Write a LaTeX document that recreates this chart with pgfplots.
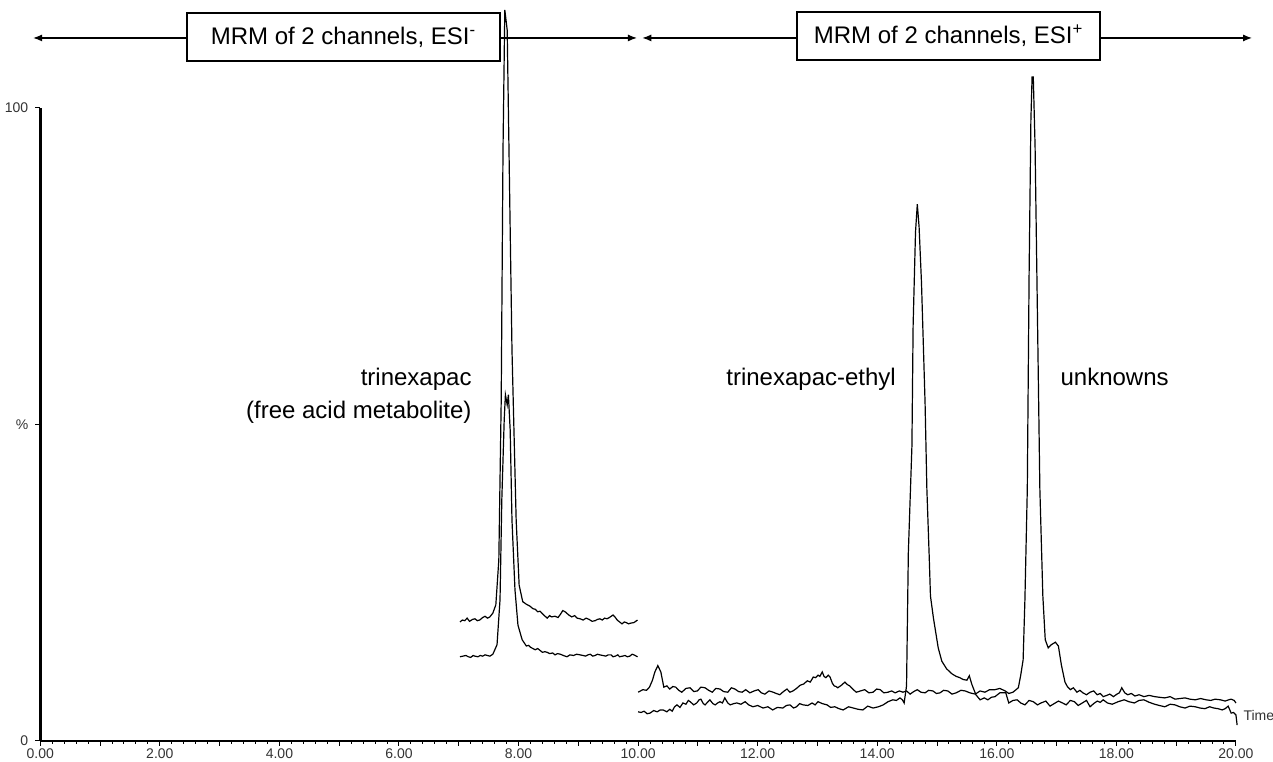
\documentclass[border=0pt]{standalone}
\usepackage{fontspec}
\setmainfont{Liberation Sans}
\usepackage{pgfplots}
\usepackage{pgfplotstable}
\pgfplotsset{compat=1.18}
\usetikzlibrary{arrows.meta}

% ESI- channel 1 (upper trace, tall peak)
\pgfplotstableread{
t p
7.02 18.8
7.06 19.1
7.10 19.0
7.14 19.4
7.18 18.9
7.23 19.2
7.27 19.3
7.31 19.0
7.35 19.1
7.40 19.5
7.44 19.7
7.48 19.4
7.52 19.6
7.57 20.2
7.62 21.5
7.67 28.6
7.71 53.9
7.74 93.4
7.77 115.5
7.81 112.3
7.84 93.4
7.89 61.8
7.96 34.9
8.01 24.6
8.07 22.0
8.13 21.6
8.19 21.3
8.24 20.9
8.28 20.8
8.32 20.4
8.36 20.5
8.42 19.9
8.48 19.4
8.52 19.8
8.55 19.6
8.61 19.7
8.66 19.5
8.70 20.0
8.74 20.6
8.78 20.4
8.84 19.9
8.89 19.6
8.94 19.8
8.98 19.4
9.03 19.3
9.08 19.1
9.13 19.4
9.18 19.2
9.23 18.9
9.28 19.0
9.32 19.2
9.36 19.3
9.40 19.1
9.44 19.4
9.48 19.3
9.52 19.5
9.55 19.7
9.58 19.9
9.62 19.5
9.65 19.1
9.69 18.8
9.73 18.5
9.77 18.8
9.80 18.7
9.84 18.5
9.87 18.6
9.93 18.7
9.99 19.1
}\esiA

% ESI- channel 2 (lower trace)
\pgfplotstableread{
t p
7.02 13.3
7.07 13.4
7.12 13.5
7.16 13.3
7.20 13.2
7.24 13.5
7.27 13.4
7.32 13.3
7.36 13.5
7.40 13.4
7.44 13.6
7.48 13.5
7.52 13.4
7.57 13.7
7.64 15.2
7.69 22.3
7.72 38.1
7.76 50.7
7.78 54.7
7.81 53.1
7.83 54.7
7.86 49.1
7.89 34.9
7.94 23.9
7.99 18.3
8.06 16.0
8.13 15.0
8.17 15.1
8.20 14.8
8.24 14.6
8.28 14.4
8.32 14.6
8.36 14.3
8.40 14.0
8.44 14.1
8.48 14.0
8.52 13.8
8.57 13.9
8.61 13.6
8.65 13.8
8.70 13.7
8.75 13.5
8.81 13.3
8.86 13.6
8.92 13.5
8.97 13.7
9.03 13.6
9.08 13.5
9.12 13.4
9.16 13.6
9.20 13.7
9.24 13.4
9.28 13.5
9.32 13.7
9.36 13.6
9.41 13.5
9.46 13.4
9.50 13.6
9.55 13.6
9.58 13.3
9.62 13.4
9.66 13.6
9.69 13.3
9.74 13.4
9.78 13.5
9.82 13.3
9.86 13.4
9.90 13.7
9.93 13.6
9.99 13.3
}\esiB

% ESI+ channel 1 (bump at 10.3, unknowns peak)
\pgfplotstableread{
t p
10.00 7.7
10.04 7.9
10.08 8.1
10.14 8.0
10.19 8.5
10.24 9.6
10.28 10.9
10.33 11.9
10.38 10.9
10.43 8.5
10.48 8.7
10.53 8.2
10.58 8.6
10.63 8.5
10.68 8.0
10.73 7.7
10.80 8.3
10.87 8.4
10.93 7.8
10.99 7.9
11.05 8.5
11.12 8.4
11.18 8.0
11.24 7.7
11.30 8.3
11.37 8.2
11.43 7.8
11.50 7.7
11.56 8.4
11.62 8.2
11.68 7.8
11.74 7.7
11.80 8.1
11.87 7.6
11.94 7.9
12.01 8.1
12.06 7.6
12.12 7.4
12.19 7.9
12.26 7.7
12.31 7.5
12.37 7.3
12.43 7.8
12.49 8.2
12.54 7.7
12.59 7.9
12.65 8.3
12.71 8.8
12.77 9.0
12.83 9.5
12.88 9.3
12.93 10.1
12.97 10.0
13.01 10.4
13.04 10.2
13.08 10.9
13.11 10.2
13.14 10.0
13.18 10.4
13.21 10.1
13.25 9.1
13.28 8.7
13.31 8.6
13.34 8.4
13.40 8.8
13.46 9.3
13.50 8.9
13.54 8.7
13.60 8.1
13.65 7.7
13.72 7.9
13.79 8.1
13.86 7.6
13.93 7.7
13.99 8.2
14.05 8.1
14.11 7.6
14.18 7.7
14.24 7.9
14.30 7.6
14.37 7.9
14.43 7.7
14.49 7.9
14.55 7.4
14.61 7.8
14.67 8.1
14.73 7.7
14.80 7.6
14.86 8.0
14.93 7.9
14.99 7.5
15.05 7.6
15.11 8.0
15.18 7.9
15.25 7.4
15.32 7.6
15.40 8.0
15.47 7.9
15.55 7.6
15.64 7.4
15.72 7.9
15.80 7.7
15.88 8.1
15.97 8.1
16.05 8.3
16.14 7.9
16.20 7.5
16.27 7.7
16.36 8.4
16.40 10.4
16.44 12.8
16.47 22.3
16.51 39.8
16.54 73.6
16.57 98.1
16.59 104.9
16.61 104.9
16.64 94.0
16.69 60.2
16.72 39.8
16.77 22.9
16.81 16.0
16.86 14.7
16.91 15.2
16.98 15.6
17.03 15.0
17.08 12.0
17.14 9.3
17.18 8.6
17.23 8.1
17.28 8.4
17.34 7.7
17.39 8.0
17.44 7.6
17.50 7.3
17.56 7.7
17.62 7.9
17.68 7.3
17.73 7.5
17.78 7.0
17.84 7.2
17.89 7.4
17.95 7.0
18.01 7.4
18.05 7.6
18.09 8.4
18.14 7.6
18.19 7.3
18.25 7.5
18.31 7.1
18.38 7.3
18.46 7.0
18.55 7.2
18.64 7.0
18.72 6.9
18.81 6.8
18.90 7.0
18.98 6.6
19.06 6.7
19.15 6.8
19.23 6.6
19.32 6.5
19.41 6.7
19.50 6.5
19.58 6.4
19.65 6.6
19.74 6.5
19.82 6.3
19.88 6.5
19.92 6.6
19.97 6.4
20.00 6.0
}\esiC

% ESI+ channel 2 (trinexapac-ethyl peak)
\pgfplotstableread{
t p
10.00 4.6
10.05 4.5
10.10 4.7
10.15 4.3
10.20 4.4
10.26 4.8
10.32 4.6
10.37 4.9
10.42 4.9
10.48 4.6
10.53 5.0
10.57 4.7
10.61 5.4
10.65 5.7
10.70 5.3
10.75 6.0
10.80 5.8
10.84 6.4
10.87 6.2
10.93 5.7
10.98 6.0
11.02 6.5
11.05 6.6
11.09 5.9
11.12 5.7
11.16 6.1
11.20 6.5
11.25 5.9
11.29 5.7
11.33 6.0
11.37 6.2
11.41 6.0
11.45 6.8
11.50 6.0
11.54 5.7
11.60 5.9
11.65 6.0
11.72 5.8
11.79 6.2
11.85 5.7
11.92 5.4
12.00 5.6
12.09 5.2
12.17 5.4
12.25 4.9
12.33 5.3
12.42 5.2
12.48 5.6
12.54 5.7
12.60 5.2
12.65 5.4
12.70 5.9
12.76 5.7
12.84 5.6
12.91 6.0
12.96 5.7
13.01 6.2
13.08 5.9
13.16 5.7
13.22 5.3
13.29 5.4
13.36 5.1
13.43 4.9
13.52 5.4
13.60 5.2
13.68 5.0
13.76 4.9
13.84 5.5
13.93 5.2
14.02 5.4
14.10 5.7
14.18 6.2
14.26 6.5
14.32 6.4
14.38 6.8
14.42 6.5
14.45 6.0
14.49 8.7
14.52 29.7
14.58 46.6
14.60 65.6
14.64 80.4
14.67 84.8
14.70 81.2
14.74 72.4
14.80 53.4
14.83 39.8
14.87 28.9
14.89 22.9
14.94 19.4
15.02 14.7
15.08 12.6
15.16 11.4
15.25 10.6
15.32 10.2
15.38 10.0
15.44 9.7
15.50 9.6
15.54 10.3
15.58 9.0
15.65 7.3
15.72 6.5
15.79 6.8
15.85 6.5
15.91 6.9
15.97 7.0
16.05 7.6
16.15 7.6
16.20 6.0
16.27 6.4
16.34 6.5
16.40 6.0
16.47 5.7
16.54 6.4
16.61 6.2
16.68 5.7
16.74 6.0
16.82 6.3
16.89 5.5
16.96 5.9
17.03 6.3
17.10 6.0
17.16 5.7
17.23 6.4
17.30 6.2
17.36 5.6
17.43 6.0
17.50 6.4
17.56 5.4
17.62 5.9
17.68 6.3
17.73 6.1
17.78 6.5
17.85 6.0
17.93 5.8
18.03 6.2
18.13 6.5
18.21 6.2
18.30 6.0
18.38 6.4
18.46 6.5
18.55 6.1
18.64 5.8
18.72 5.6
18.81 5.4
18.90 5.8
18.98 5.7
19.06 5.4
19.15 5.2
19.23 5.5
19.32 5.4
19.40 5.2
19.48 5.1
19.56 5.4
19.63 5.2
19.70 5.1
19.77 4.9
19.82 5.1
19.87 5.5
19.92 4.4
19.96 4.5
20.00 4.1
20.02 2.5
}\esiD

\begin{document}
\begin{tikzpicture}
\begin{axis}[
    scale only axis,
    width=597.85bp, height=316.5bp,
    xmin=0, xmax=20, ymin=0, ymax=100,
    axis x line*=bottom, axis y line*=left,
    clip=false,
    xtick={0,2,...,20},
    xticklabels={0.00,2.00,4.00,6.00,8.00,10.00,12.00,14.00,16.00,18.00,20.00},
    minor x tick num=9,
    extra x ticks={1,3,...,19},
    extra x tick labels={},
    ytick={0,50,100},
    yticklabels={0,\%,100},
    tick align=outside,
    major tick length=2.5bp, minor tick length=1.5bp,
    tick style={black, line width=0.5bp},
    x axis line style={line width=0.75bp},
    y axis line style={line width=1.25bp},
    ticklabel style={font=\fontsize{7bp}{8bp}\selectfont, text=black!80},
    xticklabel style={inner sep=0.5bp, yshift=-0.8bp},
]
\addplot[black, line width=0.6bp, mark=none] table {\esiA};
\addplot[black, line width=0.6bp, mark=none] table {\esiB};
\addplot[black, line width=0.6bp, mark=none] table {\esiC};
\addplot[black, line width=0.6bp, mark=none] table {\esiD};

% segment arrows and boxes
\draw[line width=0.6bp, -{Latex[length=4.5bp,width=3.5bp]}] (axis cs:2.454,111.06) -- (axis cs:-0.12,111.06);
\draw[line width=0.6bp, -{Latex[length=4.5bp,width=3.5bp]}] (axis cs:7.69,111.06) -- (axis cs:9.98,111.06);
\draw[line width=0.6bp, -{Latex[length=4.5bp,width=3.5bp]}] (axis cs:12.66,111.06) -- (axis cs:10.07,111.06);
\draw[line width=0.6bp, -{Latex[length=4.5bp,width=3.5bp]}] (axis cs:17.73,111.06) -- (axis cs:20.27,111.06);
\draw[line width=0.75bp, fill=white] (axis cs:2.454,107.4) rectangle (axis cs:7.69,115.0);
\draw[line width=0.75bp, fill=white] (axis cs:12.66,107.6) rectangle (axis cs:17.73,115.2);
\node[font=\fontsize{12bp}{14bp}\selectfont] at (axis cs:5.072,111.2) {MRM of 2 channels, ESI\textsuperscript{-}};
\node[font=\fontsize{12bp}{14bp}\selectfont] at (axis cs:15.195,111.4) {MRM of 2 channels, ESI\textsuperscript{+}};

% compound labels
\node[anchor=base east, inner sep=0pt, font=\fontsize{12bp}{14bp}\selectfont] at (axis cs:7.22,56.08) {trinexapac};
\node[anchor=base east, inner sep=0pt, font=\fontsize{12bp}{14bp}\selectfont] at (axis cs:7.22,50.87) {(free acid metabolite)};
\node[anchor=base west, inner sep=0pt, font=\fontsize{12bp}{14bp}\selectfont] at (axis cs:11.47,56.08) {trinexapac-ethyl};
\node[anchor=base west, inner sep=0pt, font=\fontsize{12bp}{14bp}\selectfont] at (axis cs:17.06,56.08) {unknowns};
\node[anchor=west, inner sep=0pt, font=\fontsize{7bp}{8bp}\selectfont, text=black!80] at (axis cs:20.12,3.95) {Time};

\coordinate (bbl) at (axis cs:-0.674,-3.32);
\coordinate (btr) at (axis cs:20.62,117.06);
\end{axis}
\pgfresetboundingbox
\useasboundingbox (bbl) rectangle (btr);
\end{tikzpicture}
\end{document}
